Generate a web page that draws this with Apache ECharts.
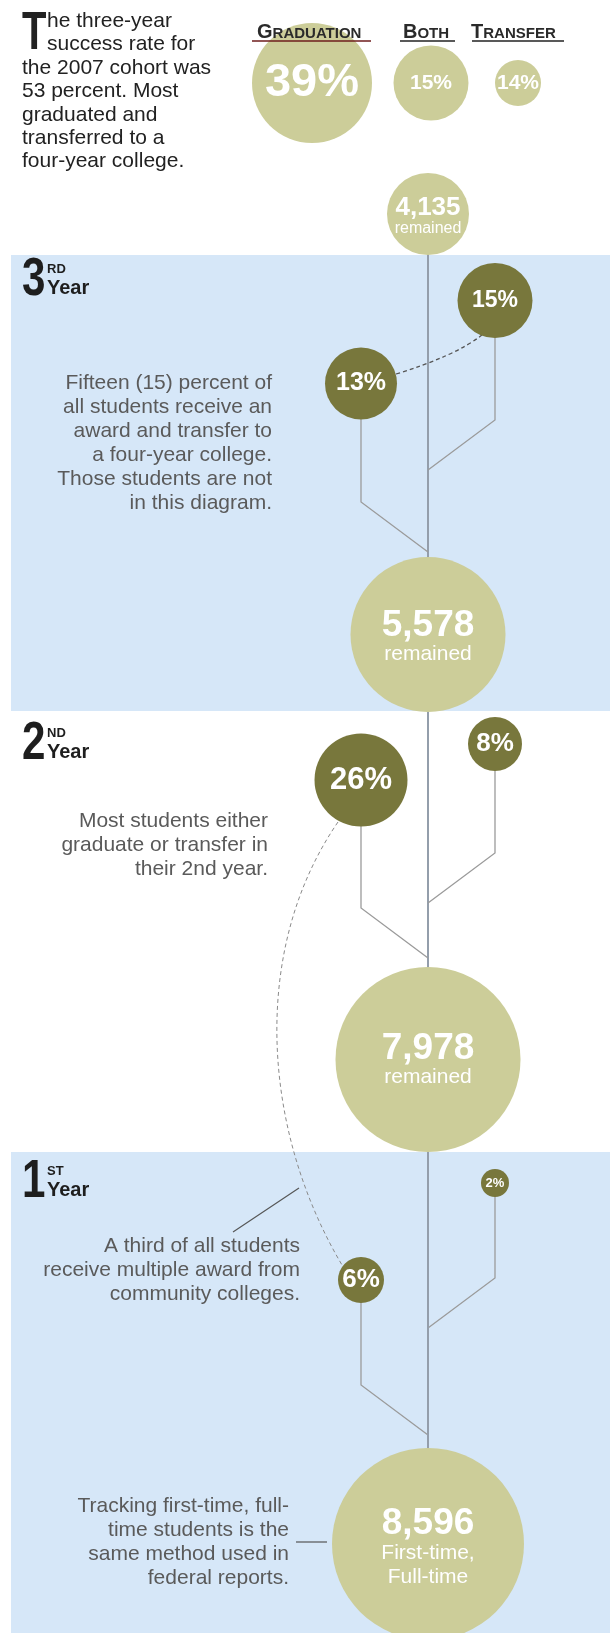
<!DOCTYPE html>
<html><head><meta charset="utf-8">
<script src="https://cdn.jsdelivr.net/npm/echarts@6/dist/echarts.min.js"></script>
<style>html,body{margin:0;padding:0;background:#fff}#c{width:610px;height:1633px}</style>
</head><body><div id="c"></div>
<script>
// ---------------- data ----------------
const summaryCategories = ['Graduation', 'Both', 'Transfer'];
const summaryValues = [39, 15, 14];
const yearDigits = ['1', '2', '3'];
const yearSuffixes = ['ST', 'ND', 'RD'];
const graduationValues = [6, 26, 13];   // left branch, year 1..3
const transferValues = [2, 8, 15];      // right branch, year 1..3
const remainedValues = [8596, 7978, 5578, 4135];
const remainedCaptions = [['First-time,', 'Full-time'], ['remained'], ['remained'], ['remained']];
const introText = ['he three-year', 'success rate for', 'the 2007 cohort was', '53 percent. Most', 'graduated and', 'transferred to a', 'four-year college.'];
const noteYear3 = ['Fifteen (15) percent of', 'all students receive an', 'award and transfer to', 'a four-year college.', 'Those students are not', 'in this diagram.'];
const noteYear2 = ['Most students either', 'graduate or transfer in', 'their 2nd year.'];
const noteYear1 = ['A third of all students', 'receive multiple award from', 'community colleges.'];
const noteStart = ['Tracking first-time, full-', 'time students is the', 'same method used in', 'federal reports.'];

// ---------------- layout / style ----------------
const W = 610, H = 1633;
const FONT = '"Liberation Sans", Arial, Helvetica, sans-serif';
const LIGHT = '#cccd99', DARK = '#78773c', BAND = '#d6e7f8';
const TRUNK_X = 428, GRAD_X = 361, TRANS_X = 495, BAND_LEFT = 11, JOIN_DY = 50;
const bandTops = [1152, 712, 255], bandBottoms = [1633, 1152, 711], bandFills = [BAND, '#ffffff', BAND];
const remainedY = [1544, 1059.5, 634.5, 214], remainedR = [96, 92.5, 77.5, 41];
const remainedNumSize = [37, 37, 37, 26], remainedCapSize = [21, 21, 21, 16];
const remainedOffset = [4, 1, 3, 3];
const gradY = [1280, 780, 383.5], gradR = [23, 46.5, 36], gradFont = [26, 31, 25];
const transY = [1183, 744, 300.5], transR = [14, 27, 37.5], transFont = [13, 26, 23];
const gradElbowY = [1385, 908, 502], transElbowY = [1278, 853, 420];
const summaryX = [312, 431, 518], summaryY = 83, summaryR = [60, 37.5, 23], summaryFont = [47, 21, 21];
const headerX = [257, 403, 471], headerLine = [[252, 371], [400, 455], [472, 564]], headerLineColor = ['#6e1c1c', '#222', '#222'];
const yearDigitY = [1179.5, 741, 277.5];

const mctx = document.createElement('canvas').getContext('2d');
function tw(t, size, weight, fam) { mctx.font = weight + ' ' + size + 'px ' + fam; return mctx.measureText(t).width; }

const graphics = [];
function addText(x, y, text, o, sx) {
  graphics.push({ type: 'text', x: x, y: y, z: 100, silent: true, scaleX: sx || 1,
    style: Object.assign({ text: text, fill: '#222', fontFamily: FONT, fontSize: 21, fontWeight: 'normal', align: 'left', verticalAlign: 'middle' }, o) });
}
function addLine(x1, y1, x2, y2, color, w) {
  graphics.push({ type: 'line', z: 100, silent: true, shape: { x1: x1, y1: y1, x2: x2, y2: y2 }, style: { stroke: color, lineWidth: w } });
}

// intro paragraph with condensed drop cap
addText(22, 33.7, 'T', { fontSize: 54, fontWeight: 'bold', fill: '#222' }, 0.74);
addText(47, 9.3, introText.slice(0, 2).join('\n'), { verticalAlign: 'top', lineHeight: 23.4 });
addText(22, 56.3, introText.slice(2).join('\n'), { verticalAlign: 'top', lineHeight: 23.4 });

// small-caps headers
summaryCategories.forEach((c, i) => {
  const base = 39, big = 20, small = 15;
  const first = c[0].toUpperCase(), rest = c.slice(1).toUpperCase();
  const w = tw(first, big, 'bold', FONT);
  addText(headerX[i], base - 0.31 * big, first, { fontSize: big, fontWeight: 'bold', fill: '#2a2a2a' });
  addText(headerX[i] + w, base - 0.31 * small, rest, { fontSize: small, fontWeight: 'bold', fill: '#2a2a2a' });
  addLine(headerLine[i][0], 41, headerLine[i][1], 41, headerLineColor[i], 1.4);
});

// year labels (condensed digit + superscript + "Year")
yearDigits.forEach((d, i) => {
  const cy = yearDigitY[i];
  addText(22, cy + 2.7, d, { fontSize: 54, fontWeight: 'bold', fill: '#1e1e1e' }, 0.78);
  addText(47, cy - 8.5 + 0.7, yearSuffixes[i], { fontSize: 13, fontWeight: 'bold', fill: '#1e1e1e' });
  addText(47, cy + 10 + 1, 'Year', { fontSize: 20, fontWeight: 'bold', fill: '#1e1e1e' });
});

// notes
const NOTE = { verticalAlign: 'top', lineHeight: 24, align: 'right', fill: '#5a5a5a' };
addText(272, 371, noteYear3.join('\n'), NOTE);
addText(268, 809, noteYear2.join('\n'), NOTE);
addText(300, 1234, noteYear1.join('\n'), NOTE);
addText(289, 1494, noteStart.join('\n'), NOTE);
addLine(299, 1188, 233, 1232, '#555', 1.2);
addLine(296, 1542, 327, 1542, '#555', 1.2);

// ---------------- series ----------------
const bandSeries = {
  type: 'custom', z: 0, silent: true, animation: false,
  data: bandTops.map((t, i) => [BAND_LEFT, t]),
  renderItem(params, api) {
    const i = params.dataIndex;
    const p0 = api.coord([BAND_LEFT, bandTops[i]]), p1 = api.coord([W, bandBottoms[i]]);
    return { type: 'rect', shape: { x: p0[0], y: p0[1], width: p1[0] - p0[0], height: p1[1] - p0[1] }, style: { fill: bandFills[i] } };
  }
};

const branchSeries = {
  type: 'custom', z: 1, silent: true, animation: false,
  data: graduationValues.map((v, i) => [GRAD_X, gradY[i]]),
  renderItem(params, api) {
    const i = params.dataIndex;
    const P = pts => pts.map(p => api.coord(p));
    const st = { stroke: '#9b9b9b', lineWidth: 1.3, fill: null };
    const children = [
      { type: 'polyline', shape: { points: P([[GRAD_X, gradY[i]], [GRAD_X, gradElbowY[i]], [TRUNK_X, gradElbowY[i] + JOIN_DY]]) }, style: st },
      { type: 'polyline', shape: { points: P([[TRANS_X, transY[i]], [TRANS_X, transElbowY[i]], [TRUNK_X, transElbowY[i] + JOIN_DY]]) }, style: st }
    ];
    if (i === 0) {
      children.push({ type: 'polyline', shape: { points: P([[TRUNK_X, remainedY[3]], [TRUNK_X, remainedY[0]]]) }, style: { stroke: '#949eab', lineWidth: 2, fill: null } });
    }
    return { type: 'group', children: children };
  }
};

// dashed connectors: year-3 graduation -> year-3 transfer, year-2 graduation -> year-1 graduation
const curveSeries = {
  type: 'custom', z: 1, silent: true, animation: false,
  data: [[GRAD_X, gradY[2]], [GRAD_X, gradY[1]]],
  renderItem(params, api) {
    if (params.dataIndex === 0) {
      const a = api.coord([396, 374]), c = api.coord([455, 356]), b = api.coord([482, 335]);
      return { type: 'bezierCurve', shape: { x1: a[0], y1: a[1], cpx1: c[0], cpy1: c[1], x2: b[0], y2: b[1] }, style: { stroke: '#555', lineWidth: 1.3, lineDash: [4, 3], fill: null } };
    }
    const a = api.coord([338, 822]), c1 = api.coord([250, 950]), c2 = api.coord([262, 1130]), b = api.coord([342, 1265]);
    return { type: 'bezierCurve', shape: { x1: a[0], y1: a[1], cpx1: c1[0], cpy1: c1[1], cpx2: c2[0], cpy2: c2[1], x2: b[0], y2: b[1] }, style: { stroke: '#8a8a8a', lineWidth: 1, lineDash: [4, 3], fill: null } };
  }
};

function pctLabel(v, fs) {
  return { show: true, position: 'inside', formatter: () => v + '%', color: '#fff', fontWeight: 'bold', fontSize: fs, fontFamily: FONT };
}
const common = { type: 'scatter', z: 3, silent: true, animation: false, emphasis: { disabled: true }, symbol: 'circle' };

const summarySeries = Object.assign({}, common, {
  itemStyle: { color: LIGHT, opacity: 1 },
  data: summaryValues.map((v, i) => ({ value: [summaryX[i], summaryY, v], symbolSize: summaryR[i] * 2, label: pctLabel(v, summaryFont[i]) }))
});
const gradSeries = Object.assign({}, common, {
  itemStyle: { color: DARK, opacity: 1 },
  data: graduationValues.map((v, i) => ({ value: [GRAD_X, gradY[i], v], symbolSize: gradR[i] * 2, label: pctLabel(v, gradFont[i]) }))
});
const transSeries = Object.assign({}, common, {
  itemStyle: { color: DARK, opacity: 1 },
  data: transferValues.map((v, i) => ({ value: [TRANS_X, transY[i], v], symbolSize: transR[i] * 2, label: pctLabel(v, transFont[i]) }))
});
const remainedSeries = Object.assign({}, common, {
  itemStyle: { color: LIGHT, opacity: 1 },
  data: remainedValues.map((v, i) => ({
    value: [TRUNK_X, remainedY[i], v], symbolSize: remainedR[i] * 2,
    label: {
      show: true, position: 'inside', offset: [0, remainedOffset[i]],
      formatter: () => '{n|' + v.toLocaleString('en-US') + '}\n' + remainedCaptions[i].map(s => '{c|' + s + '}').join('\n'),
      rich: {
        n: { fontSize: remainedNumSize[i], fontWeight: 'bold', color: '#fff', fontFamily: FONT, lineHeight: remainedNumSize[i] * 0.92, align: 'center' },
        c: { fontSize: remainedCapSize[i], color: '#fff', fontFamily: FONT, lineHeight: remainedCapSize[i] * 1.14, align: 'center' }
      }
    }
  }))
});

const chart = echarts.init(document.getElementById('c'), null, { renderer: 'canvas', width: W, height: H });
chart.setOption({
  animation: false,
  backgroundColor: '#ffffff',
  grid: { left: 0, right: 0, top: 0, bottom: 0 },
  xAxis: { type: 'value', min: 0, max: W, show: false },
  yAxis: { type: 'value', min: 0, max: H, inverse: true, show: false },
  graphic: { elements: graphics },
  series: [bandSeries, branchSeries, curveSeries, summarySeries, gradSeries, transSeries, remainedSeries]
});
</script></body></html>
